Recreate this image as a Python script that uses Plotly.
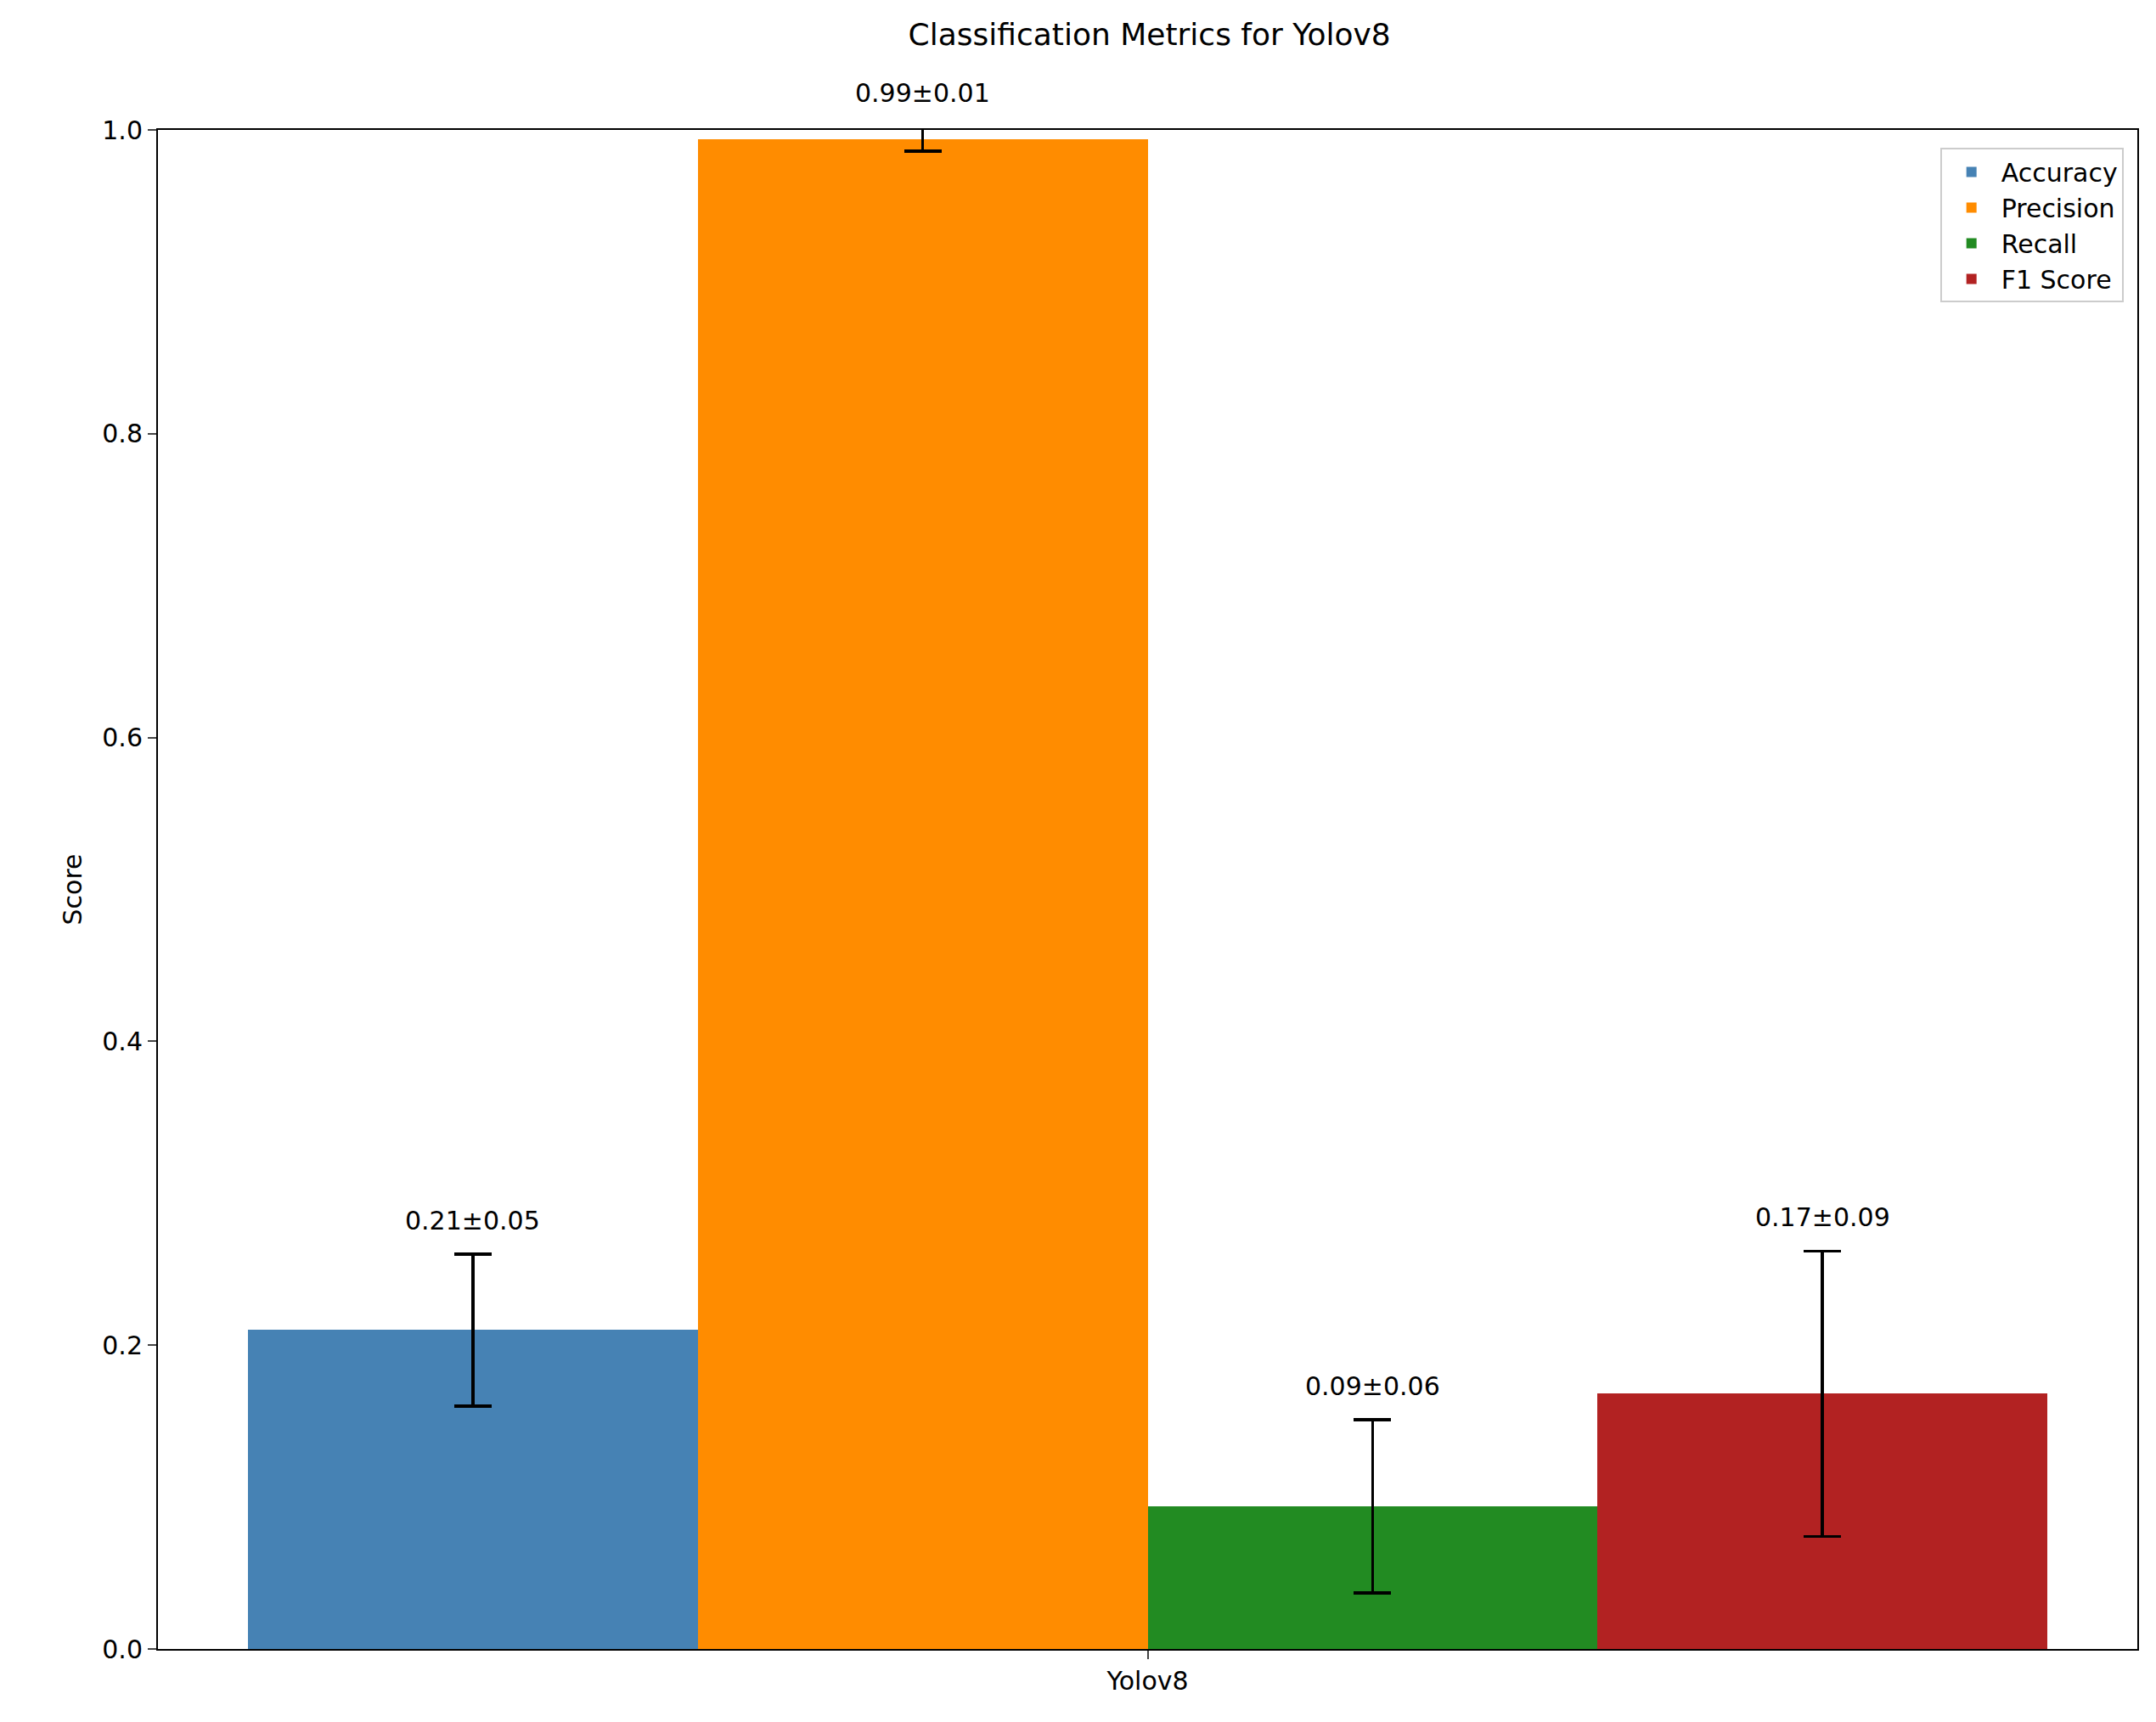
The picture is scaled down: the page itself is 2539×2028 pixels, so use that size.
import plotly.graph_objects as go

metrics = ["Accuracy", "Precision", "Recall", "F1 Score"]
means = [0.21, 0.994, 0.094, 0.168]
stds = [0.05, 0.008, 0.057, 0.094]
labels = ["0.21±0.05", "0.99±0.01", "0.09±0.06", "0.17±0.09"]
colors = ["steelblue", "darkorange", "forestgreen", "firebrick"]
offsets = [-0.3, -0.1, 0.1, 0.3]

fig = go.Figure()
for m, v, s, c, o in zip(metrics, means, stds, colors, offsets):
    fig.add_trace(go.Bar(
        x=[o], y=[v], width=0.2, name=m, marker_color=c, marker_line_width=0,
        error_y=dict(type="data", array=[s], color="black", thickness=3.5, width=22),
    ))

# labels above the error bars (y domain so the one above the axes is still drawn)
for v, s, t, o in zip(means, stds, labels, offsets):
    fig.add_annotation(x=o, y=(v + s) / 1.0, yref="y domain", text=t, showarrow=False,
                       yanchor="bottom", yshift=20, font=dict(size=30, color="black"))

fig.update_layout(
    width=2539, height=2028,
    margin=dict(l=178, r=30, t=145, b=94),
    plot_bgcolor="white", paper_bgcolor="white",
    font=dict(family="DejaVu Sans", size=30, color="black"),
    title=dict(text="Classification Metrics for Yolov8", x=0.53, xanchor="center",
               y=0.99, yanchor="top", font=dict(size=36)),
    showlegend=True,
    legend=dict(x=0.993, y=0.988, xanchor="right", yanchor="top",
                bordercolor="#cccccc", borderwidth=2, bgcolor="white",
                font=dict(size=30), itemwidth=60),
    bargap=0,
)
fig.update_xaxes(range=[-0.44, 0.44], tickvals=[0], ticktext=["Yolov8"],
                 showline=True, linecolor="black", linewidth=2, mirror=True,
                 ticks="outside", ticklen=10, tickwidth=2, showgrid=False, zeroline=False)
fig.update_yaxes(range=[0, 1.0], tickvals=[0, 0.2, 0.4, 0.6, 0.8, 1.0],
                 ticktext=["0.0", "0.2", "0.4", "0.6", "0.8", "1.0"],
                 title=dict(text="Score", font=dict(size=30)),
                 showline=True, linecolor="black", linewidth=2, mirror=True,
                 ticks="outside", ticklen=10, tickwidth=2, showgrid=False, zeroline=False)
fig.write_html("out.html")
